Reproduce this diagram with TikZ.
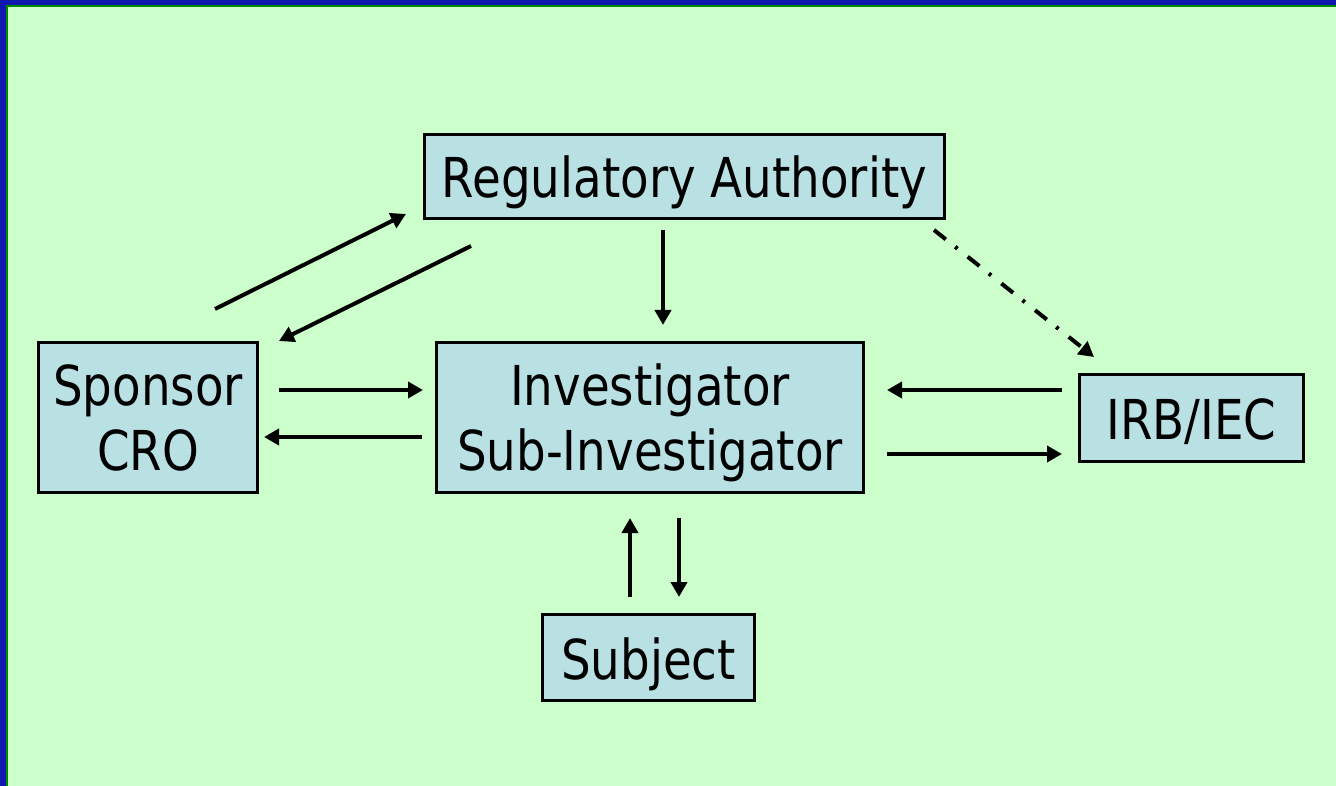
\documentclass[tikz,border=0pt]{standalone}
\usepackage{fontspec}
\setmainfont{DejaVu Sans}[FakeStretch=0.85]
\usetikzlibrary{arrows.meta}
\definecolor{bgc}{HTML}{CCFFCC}
\definecolor{boxc}{HTML}{B9E0E3}
\definecolor{frameblue}{HTML}{1018B0}
\definecolor{framegreen}{HTML}{008800}
\tikzset{
  box/.style={draw=black, line width=3.5pt, fill=boxc, inner sep=0pt, align=center,
    font=\fontsize{55}{65}\selectfont, text depth=0pt},
  onebox/.style={box, text height=43pt},
  conn/.style={line width=4pt, -{Triangle[length=15pt,width=16pt]}},
  dashdot/.style={conn, dash pattern=on 15pt off 12pt on 3pt off 13pt}
}
\begin{document}
\begin{tikzpicture}[x=1pt,y=-1pt]
\useasboundingbox (0,0) rectangle (1336,786);
\fill[frameblue] (0,0) rectangle (1336,786);
\fill[framegreen] (6,5) rectangle (1336,786);
\fill[bgc] (8,7) rectangle (1336,786);

\node[onebox, minimum width=520pt, minimum height=84pt] (reg) at (684.5,176.5) {Regulatory Authority};
\node[box, minimum width=219pt, minimum height=150pt] (spon) at (148,417.5) {Sponsor\\CRO};
\node[box, minimum width=427pt, minimum height=150pt] (inv) at (650,417.5) {Investigator\\Sub-Investigator};
\node[onebox, minimum width=224pt, minimum height=87pt] (irb) at (1191.5,418) {IRB/IEC};
\node[onebox, minimum width=212pt, minimum height=86pt] (subj) at (648.5,657.5) {Subject};

% arrow end points
\coordinate (sr1) at (215,309);  \coordinate (sr2) at (406,214);
\coordinate (rs1) at (471,246);  \coordinate (rs2) at (279,341);
\coordinate (ri1) at (663,230);  \coordinate (ri2) at (663,325);
\coordinate (rb1) at (934,230);  \coordinate (rb2) at (1094,357);
\coordinate (si1) at (279,390);  \coordinate (si2) at (423,390);
\coordinate (is1) at (422,437);  \coordinate (is2) at (264,437);
\coordinate (bi1) at (1062,390); \coordinate (bi2) at (887,390);
\coordinate (ib1) at (887,454);  \coordinate (ib2) at (1062,454);
\coordinate (su1) at (630,597);  \coordinate (su2) at (630,518);
\coordinate (us1) at (679,518);  \coordinate (us2) at (679,597);

\draw[conn] (sr1) -- (sr2);
\draw[conn] (rs1) -- (rs2);
\draw[conn] (ri1) -- (ri2);
\draw[dashdot] (rb1) -- (rb2);
\draw[conn] (si1) -- (si2);
\draw[conn] (is1) -- (is2);
\draw[conn] (bi1) -- (bi2);
\draw[conn] (ib1) -- (ib2);
\draw[conn] (su1) -- (su2);
\draw[conn] (us1) -- (us2);
\end{tikzpicture}
\end{document}
